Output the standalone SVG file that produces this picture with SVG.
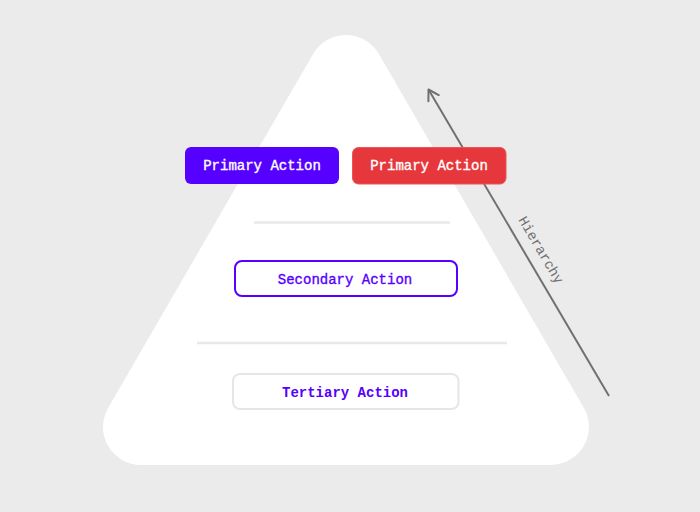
<svg xmlns="http://www.w3.org/2000/svg" width="700" height="512" viewBox="0 0 700 512">
<style>
.t{font-family:"Liberation Mono","DejaVu Sans Mono",monospace;font-size:14px;text-anchor:middle;stroke-width:0.35}
.sep{stroke:#E8E8E8;stroke-width:2.5;fill:none}
</style>
<defs>
<marker id="arr" viewBox="0 0 14 14" refX="12" refY="7" markerWidth="14" markerHeight="14" markerUnits="userSpaceOnUse" orient="auto">
<path d="M2,1 L12,7 L2,13" fill="none" stroke="#707070" stroke-width="2" stroke-linecap="round" stroke-linejoin="round"/>
</marker>
</defs>
<rect width="700" height="512" fill="#EBEBEB"/>
<g id="pyramid">
<polygon points="346,73 141,427 551,427" fill="#FFFFFF" stroke="#FFFFFF" stroke-width="76" stroke-linejoin="round"/>
<line class="sep" x1="254" y1="222.5" x2="450" y2="222.5"/>
<line class="sep" x1="197" y1="343" x2="507" y2="343"/>
</g>
<g id="connectors">
<line x1="609" y1="396" x2="428.5" y2="89.5" stroke="#707070" stroke-width="2" marker-end="url(#arr)"/>
</g>
<g id="primary-blue">
<rect x="185" y="147" width="154" height="37" rx="6" fill="#5600FF"/>
<text class="t" x="262" y="170" fill="#FFFFFF" stroke="#FFFFFF" stroke-width="0.15">Primary Action</text>
</g>
<g id="primary-red">
<rect x="352.5" y="147.5" width="153.5" height="36.5" rx="6" fill="#E5373C" stroke="#EC5558" stroke-width="1"/>
<text class="t" x="429" y="170" fill="#FFFFFF" stroke="#FFFFFF" stroke-width="0.15">Primary Action</text>
</g>
<g id="secondary">
<rect x="235" y="261" width="222" height="35" rx="7" fill="#FFFFFF" stroke="#5600FF" stroke-width="2"/>
<text class="t" x="345" y="283.5" fill="#5600FF" stroke="#5600FF">Secondary Action</text>
</g>
<g id="tertiary">
<rect x="233" y="374" width="225.5" height="35" rx="7" fill="#FFFFFF" stroke="#E6E6E6" stroke-width="2"/>
<text class="t" x="345" y="396.5" fill="#5600FF" font-weight="bold">Tertiary Action</text>
</g>
<g id="label">
<text class="t" transform="translate(541,250) rotate(59.4)" x="0" y="4.5" fill="#707070" font-size="13">Hierarchy</text>
</g>
</svg>
